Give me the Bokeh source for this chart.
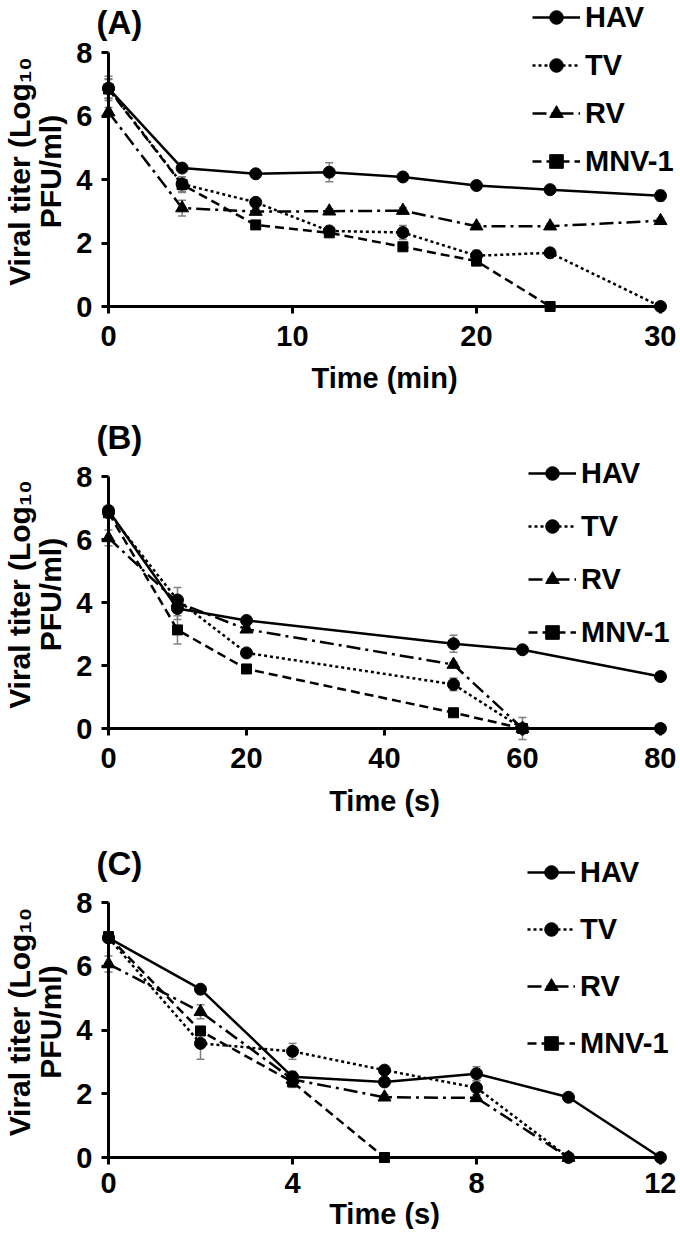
import math
from bokeh.plotting import figure
from bokeh.models import (Range1d, FixedTicker, Whisker, TeeHead, ColumnDataSource,
                          Legend, LegendItem, Label)
from bokeh.layouts import column
from bokeh.embed import file_html
from bokeh.resources import INLINE

# ---------------- data ----------------
SERIES = ["HAV", "TV", "RV", "MNV-1"]
Y_TICKS = [0, 2, 4, 6, 8]

# Panel A  (time in min)
A_X_TICKS = [0, 10, 20, 30]
A_T_HAV = [0, 4, 8, 12, 16, 20, 24, 30]
A_HAV = [6.87, 4.36, 4.18, 4.23, 4.08, 3.81, 3.68, 3.49]
A_HAV_ERR = [0.38, 0.08, 0.08, 0.30, 0.08, 0.08, 0.08, 0.17]
A_T_TV = [0, 4, 8, 12, 16, 20, 24, 30]
A_TV = [6.87, 3.86, 3.28, 2.38, 2.33, 1.60, 1.69, 0.0]
A_TV_ERR = [0.30, 0.23, 0.10, 0.10, 0.22, 0.17, 0.13, 0.0]
A_T_RV = [0, 4, 8, 12, 16, 20, 24, 30]
A_RV = [6.12, 3.10, 2.99, 3.00, 3.02, 2.53, 2.53, 2.70]
A_RV_ERR = [0.15, 0.25, 0.08, 0.08, 0.10, 0.08, 0.08, 0.08]
A_T_MNV = [0, 4, 8, 12, 16, 20, 24]
A_MNV = [6.85, 3.84, 2.57, 2.32, 1.88, 1.43, 0.0]
A_MNV_ERR = [0.30, 0.25, 0.08, 0.08, 0.10, 0.10, 0.0]

# Panel B  (time in s)
B_X_TICKS = [0, 20, 40, 60, 80]
B_T_HAV = [0, 10, 20, 50, 60, 80]
B_HAV = [6.92, 3.81, 3.43, 2.69, 2.50, 1.65]
B_HAV_ERR = [0.10, 0.35, 0.08, 0.27, 0.10, 0.08]
B_T_TV = [0, 10, 20, 50, 60, 80]
B_TV = [6.85, 4.08, 2.40, 1.40, 0.0, 0.0]
B_TV_ERR = [0.10, 0.40, 0.08, 0.20, 0.0, 0.0]
B_T_RV = [0, 10, 20, 50, 60]
B_RV = [6.05, 4.00, 3.15, 2.03, 0.0]
B_RV_ERR = [0.25, 0.10, 0.08, 0.08, 0.35]
B_T_MNV = [0, 10, 20, 50, 60]
B_MNV = [6.85, 3.13, 1.89, 0.50, 0.0]
B_MNV_ERR = [0.10, 0.45, 0.08, 0.08, 0.0]

# Panel C  (time in s)
C_X_TICKS = [0, 4, 8, 12]
C_T_HAV = [0, 2, 4, 6, 8, 10, 12]
C_HAV = [6.89, 5.28, 2.53, 2.37, 2.63, 1.89, 0.0]
C_HAV_ERR = [0.10, 0.08, 0.10, 0.10, 0.22, 0.08, 0.0]
C_T_TV = [0, 2, 4, 6, 8, 10]
C_TV = [6.89, 3.58, 3.33, 2.74, 2.19, 0.0]
C_TV_ERR = [0.10, 0.50, 0.25, 0.08, 0.22, 0.0]
C_T_RV = [0, 2, 4, 6, 8, 10]
C_RV = [6.07, 4.57, 2.45, 1.89, 1.87, 0.0]
C_RV_ERR = [0.25, 0.22, 0.25, 0.08, 0.10, 0.0]
C_T_MNV = [0, 2, 4, 6]
C_MNV = [6.93, 3.97, 2.37, 0.0]
C_MNV_ERR = [0.10, 0.10, 0.10, 0.0]

# ---------------- style ----------------
FONT = "Liberation Sans"
STYLE = {
    "HAV": dict(marker="circle", dash="solid", size=12),
    "TV": dict(marker="circle", dash="3 3", size=12),
    "RV": dict(marker="triangle", dash="14 5 3 5", size=13),
    "MNV-1": dict(marker="square", dash="9 5", size=10),
}
PAGE_L, PAGE_R = 0, 676          # figure extent in picture pixels
X0_PAGE, X1_PAGE = 108, 660      # where x=0 and x=max sit


def build_panel(letter, xlabel, xmax, xticks, data, geo):
    fig_top, h, y8, y0 = geo["fig_top"], geo["h"], geo["y8"], geo["y0"]
    fig_bottom = fig_top + h
    sx = (X1_PAGE - X0_PAGE) / xmax
    sy = (y0 - y8) / 8.0
    xr = Range1d(-(X0_PAGE - PAGE_L) / sx, xmax + (PAGE_R - X1_PAGE) / sx)
    yr = Range1d(-(fig_bottom - y0) / sy, 8 + (y8 - fig_top) / sy)
    p = figure(width=PAGE_R - PAGE_L, height=h, output_backend="svg",
               toolbar_location=None, x_range=xr, y_range=yr,
               min_border=0, min_border_left=0, min_border_right=0,
               min_border_top=0, min_border_bottom=0, title=None)
    p.outline_line_color = None
    p.xgrid.visible = False
    p.ygrid.visible = False
    p.background_fill_color = "white"
    p.border_fill_color = "white"

    for ax in (p.xaxis[0], p.yaxis[0]):
        ax.axis_line_width = 3
        ax.axis_line_color = "black"
        ax.major_tick_line_width = 3
        ax.major_tick_line_color = "black"
        ax.major_tick_out = 7
        ax.major_tick_in = 0
        ax.minor_tick_line_color = None
        ax.major_label_text_font = FONT
        ax.major_label_text_font_style = "bold"
        ax.major_label_text_font_size = "29px"
        ax.major_label_text_color = "black"
    p.xaxis.ticker = FixedTicker(ticks=xticks)
    p.yaxis.ticker = FixedTicker(ticks=Y_TICKS)
    p.xaxis.fixed_location = 0
    p.yaxis.fixed_location = 0
    p.xaxis.bounds = (0, xmax)
    p.yaxis.bounds = (0, 8)
    p.xaxis.major_label_standoff = geo["xstand"]
    p.yaxis.major_label_standoff = 9

    items = []
    for name in SERIES:
        t, v, e = data[name]
        st = STYLE[name]
        src = ColumnDataSource(dict(x=t, y=v))
        et = [ti for ti, ei in zip(t, e) if ei > 0]
        eu = [vi + ei for vi, ei in zip(v, e) if ei > 0]
        el = [vi - ei for vi, ei in zip(v, e) if ei > 0]
        esrc = ColumnDataSource(dict(x=et, upper=eu, lower=el))
        w = Whisker(source=esrc, base="x", upper="upper", lower="lower",
                    line_color="#808080", line_width=1.5,
                    upper_head=TeeHead(size=8, line_color="#808080", line_width=1.5),
                    lower_head=TeeHead(size=8, line_color="#808080", line_width=1.5))
        p.add_layout(w)
        ln = p.line("x", "y", source=src, line_color="black", line_width=2.5,
                    line_dash=st["dash"])
        sc = p.scatter("x", "y", source=src, marker=st["marker"], size=st["size"],
                       fill_color="black", line_color="black")
        items.append(LegendItem(label=name, renderers=[ln, sc]))

    rows = geo["legend_rows"]
    item_h = 34
    spacing = int(round((rows[-1] - rows[0]) / 3 - item_h))
    leg_top = rows[0] - item_h / 2
    leg_h = 4 * item_h + 3 * spacing
    leg_bottom = leg_top + leg_h
    leg = Legend(items=items, location=(geo["leg_x"] - PAGE_L, fig_bottom - leg_bottom),
                 orientation="vertical", padding=0, margin=0, spacing=spacing,
                 glyph_width=48, glyph_height=item_h, label_height=item_h,
                 label_standoff=5, label_text_font=FONT, label_text_font_style="bold",
                 label_text_font_size="29px", label_text_color="black",
                 border_line_color=None, background_fill_alpha=0)
    p.add_layout(leg)

    def lab(text, px, py, size, angle=0.0, align="center"):
        p.add_layout(Label(x=px - PAGE_L, y=fig_bottom - py, x_units="screen",
                           y_units="screen", text=text, angle=angle, text_align=align,
                           text_baseline="middle", text_font=FONT,
                           text_font_style="bold", text_font_size=size,
                           text_color="black"))

    lab(letter, 96, geo["letter_y"], "33px", align="left")
    mid = (y8 + y0) / 2 - 8
    lab("Viral titer (Log\u2081\u2080", 19, mid, "30px", angle=math.pi / 2)
    lab("PFU/ml)", 50, mid, "30px", angle=math.pi / 2)
    lab(xlabel, (X0_PAGE + X1_PAGE) / 2, geo["xlab_y"], "29px")
    return p


pA = build_panel("(A)", "Time (min)", 30, A_X_TICKS, {
    "HAV": (A_T_HAV, A_HAV, A_HAV_ERR), "TV": (A_T_TV, A_TV, A_TV_ERR),
    "RV": (A_T_RV, A_RV, A_RV_ERR), "MNV-1": (A_T_MNV, A_MNV, A_MNV_ERR)},
    dict(fig_top=0, h=412, y8=52, y0=306, legend_rows=[17, 65, 113, 162],
         leg_x=532, letter_y=22, xlab_y=377, xstand=12))

pB = build_panel("(B)", "Time (s)", 80, B_X_TICKS, {
    "HAV": (B_T_HAV, B_HAV, B_HAV_ERR), "TV": (B_T_TV, B_TV, B_TV_ERR),
    "RV": (B_T_RV, B_RV, B_RV_ERR), "MNV-1": (B_T_MNV, B_MNV, B_MNV_ERR)},
    dict(fig_top=412, h=425, y8=476, y0=728, legend_rows=[473, 527, 577, 632],
         leg_x=528, letter_y=437, xlab_y=800, xstand=12))

pC = build_panel("(C)", "Time (s)", 12, C_X_TICKS, {
    "HAV": (C_T_HAV, C_HAV, C_HAV_ERR), "TV": (C_T_TV, C_TV, C_TV_ERR),
    "RV": (C_T_RV, C_RV, C_RV_ERR), "MNV-1": (C_T_MNV, C_MNV, C_MNV_ERR)},
    dict(fig_top=837, h=392, y8=902, y0=1157, legend_rows=[872, 928, 983, 1042],
         leg_x=527, letter_y=863, xlab_y=1213, xstand=8))

layout = column(pA, pB, pC, spacing=0)
open("out.html", "w").write(file_html(layout, INLINE))
